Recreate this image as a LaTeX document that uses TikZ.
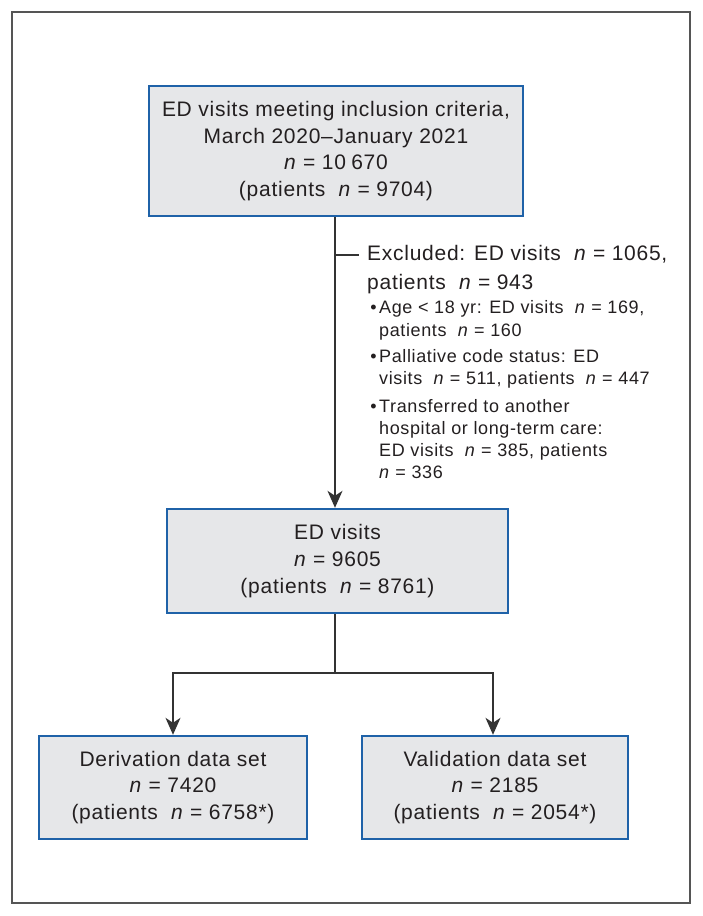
\documentclass[tikz,border=0pt]{standalone}
\usepackage{fontspec}
\setmainfont[LetterSpace=3.5]{Liberation Sans}
\usetikzlibrary{arrows.meta}
\definecolor{boxfill}{HTML}{E6E7E9}
\definecolor{boxline}{HTML}{1F62A8}
\definecolor{ink}{HTML}{231F20}
\definecolor{wirecol}{HTML}{333333}
\definecolor{framecol}{HTML}{555555}
\begin{document}
\begin{tikzpicture}[x=1pt,y=-1pt,
  flowbox/.style={draw=boxline, line width=2.4pt, fill=boxfill, align=center, text=ink,
    font=\fontsize{21}{26.7}\selectfont, inner sep=0pt},
  extext/.style={anchor=base west, align=left, text=ink, inner sep=0pt},
  wire/.style={draw=wirecol, line width=1.5pt},
  arr/.style={wire, -{Stealth[length=17pt,width=15pt,inset=5pt]}}]
\useasboundingbox (0,0) rectangle (703,916);
\draw[draw=framecol, line width=2pt] (12,12) rectangle (690,903);

\node[flowbox, minimum width=374pt, minimum height=130pt] (top) at (336,151)
  {ED visits meeting inclusion criteria,\\March 2020--January 2021\\\textit{n} = 10\hspace{0.25em}670\\(patients\ \ \textit{n} = 9704)};

\node[flowbox, minimum width=341pt, minimum height=104pt] (mid) at (337.5,561)
  {ED visits\\\textit{n} = 9605\\(patients\ \ \textit{n} = 8761)};

\node[flowbox, minimum width=268pt, minimum height=103pt] (left) at (173,787.5)
  {Derivation data set\\\textit{n} = 7420\\(patients\ \ \textit{n} = 6758*)};

\node[flowbox, minimum width=266pt, minimum height=103pt] (right) at (495,787.5)
  {Validation data set\\\textit{n} = 2185\\(patients\ \ \textit{n} = 2054*)};

% base anchor of a multi-line node = baseline of its last line
\node[extext, font=\fontsize{21}{29}\selectfont] (excl) at (367,289)
  {Excluded: ED visits\ \ \textit{n} = 1065,\\patients\ \ \textit{n} = 943};
\node[extext, font=\fontsize{18}{23}\selectfont] (ex1) at (379,336)
  {\llap{\textbullet\hspace{2.5pt}}Age < 18 yr: ED visits\ \ \textit{n} = 169,\\patients\ \ \textit{n} = 160};
\node[extext, font=\fontsize{18}{22}\selectfont] (ex2) at (379,384)
  {\llap{\textbullet\hspace{2.5pt}}Palliative code status: ED\\visits\ \ \textit{n} = 511, patients\ \ \textit{n} = 447};
\node[extext, font=\fontsize{18}{22}\selectfont] (ex3) at (379,478)
  {\llap{\textbullet\hspace{2.5pt}}Transferred to another\\hospital or long-term care:\\ED visits\ \ \textit{n} = 385, patients\\\textit{n} = 336};

\coordinate (exjoin) at (335,255);
\coordinate (split) at (335,673);

\draw[arr] (top.south -| exjoin) -- (mid.north -| exjoin);
\draw[wire] (exjoin) -- ++(24,0);
\draw[wire] (mid.south -| split) -- (split);
\draw[arr] (split) -| (left.north);
\draw[arr] (split) -| ([xshift=-2pt]right.north);
\end{tikzpicture}
\end{document}
